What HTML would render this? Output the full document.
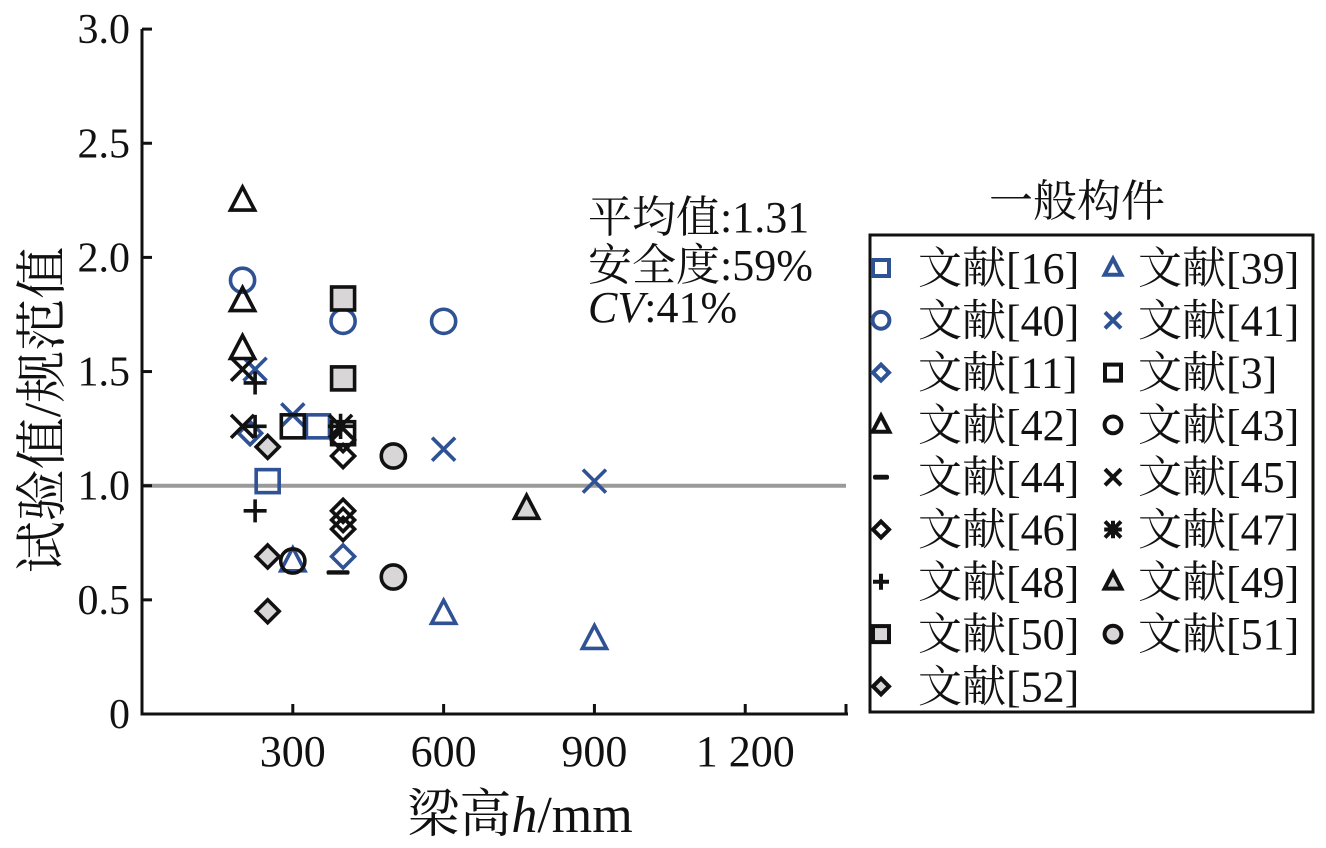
<!DOCTYPE html>
<html><head><meta charset="utf-8"><style>
html,body{margin:0;padding:0;background:#fff;}
svg{display:block;font-family:"Liberation Serif","Noto Serif CJK SC",serif;}
</style></head><body>
<svg id="chart" width="1326" height="848" viewBox="0 0 1326 848" xmlns="http://www.w3.org/2000/svg">
<g id="plot"></g>
<g id="legend"></g>
</svg>
<script>
const NS="http://www.w3.org/2000/svg";
const xTicks=[300,600,900,1200];
const xTickLabels=["300","600","900","1 200"];
const yTicks=[0,0.5,1.0,1.5,2.0,2.5,3.0];
const yTickLabels=["0","0.5","1.0","1.5","2.0","2.5","3.0"];
const seriesNames=["文献[16]","文献[39]","文献[40]","文献[41]","文献[11]","文献[3]","文献[42]","文献[43]","文献[44]","文献[45]","文献[46]","文献[47]","文献[48]","文献[49]","文献[50]","文献[51]","文献[52]"];
const seriesShapes=["square","triangle","circle","x","diamond","square","triangle","circle","dash","x","diamond","asterisk","plus","triangle","square","circle","diamond"];
const seriesColors=["blue","blue","blue","blue","blue","black","black","black","black","black","black","black","black","gray","gray","gray","gray"];
const s16x=[250,350],s16y=[1.02,1.26];
const s39x=[300,600,900],s39y=[0.67,0.44,0.33];
const s40x=[200,400,600],s40y=[1.90,1.72,1.72];
const s41x=[225,300,600,900],s41y=[1.51,1.31,1.16,1.02];
const s11x=[215,400],s11y=[1.23,0.69];
const s3x=[300,400],s3y=[1.26,1.23];
const s42x=[200,200,200],s42y=[2.25,1.81,1.60];
const s43x=[300],s43y=[0.67];
const s44x=[390],s44y=[0.62];
const s45x=[200,200],s45y=[1.51,1.26];
const s46x=[400,400,400,400,400],s46y=[1.20,1.13,0.89,0.85,0.81];
const s47x=[395],s47y=[1.26];
const s48x=[225,225,225],s48y=[1.45,1.26,0.89];
const s49x=[765],s49y=[0.90];
const s50x=[400,400],s50y=[1.82,1.47];
const s51x=[500,500],s51y=[1.13,0.60];
const s52x=[250,250,250],s52y=[1.17,0.69,0.45];
const allX=[s16x,s39x,s40x,s41x,s11x,s3x,s42x,s43x,s44x,s45x,s46x,s47x,s48x,s49x,s50x,s51x,s52x];
const allY=[s16y,s39y,s40y,s41y,s11y,s3y,s42y,s43y,s44y,s45y,s46y,s47y,s48y,s49y,s50y,s51y,s52y];
const legendOrder=[0,1,2,3,4,5,6,7,8,9,10,11,12,13,14,15,16];

const X0=142,PXMM=0.5027,Y0=714,PXU=228.3;
const xs=v=>X0+v*PXMM, ys=v=>Y0-v*PXU;
const BLUE="#2f5295",BLACK="#111",GRAY="#d8d6d6";
function el(t,a,p){const e=document.createElementNS(NS,t);for(const k in a)e.setAttribute(k,a[k]);p.appendChild(e);return e;}
const plot=document.getElementById('plot'),leg=document.getElementById('legend');

function marker(parent,shape,color,cx,cy,r,sw){
  const stroke=color==="blue"?BLUE:BLACK;
  const fill=color==="gray"?GRAY:"none";
  const g=el('g',{},parent);
  const st={stroke:stroke,'stroke-width':sw,fill:fill};
  if(shape==="square")el('rect',Object.assign({x:cx-r,y:cy-r,width:2*r,height:2*r},st),g);
  else if(shape==="circle")el('circle',Object.assign({cx:cx,cy:cy,r:r*1.05},st),g);
  else if(shape==="triangle")el('polygon',Object.assign({points:`${cx},${cy-r*1.15} ${cx-r*1.05},${cy+r*0.85} ${cx+r*1.05},${cy+r*0.85}`},st),g);
  else if(shape==="diamond")el('polygon',Object.assign({points:`${cx},${cy-r} ${cx+r},${cy} ${cx},${cy+r} ${cx-r},${cy}`},st),g);
  else if(shape==="x"){el('path',{d:`M${cx-r} ${cy-r}L${cx+r} ${cy+r}M${cx+r} ${cy-r}L${cx-r} ${cy+r}`,stroke:stroke,'stroke-width':sw},g);}
  else if(shape==="plus"){el('path',{d:`M${cx-r} ${cy}L${cx+r} ${cy}M${cx} ${cy-r}L${cx} ${cy+r}`,stroke:stroke,'stroke-width':sw},g);}
  else if(shape==="dash"){el('rect',{x:cx-r,y:cy-sw*0.6,width:2*r,height:sw*1.2,rx:sw*0.5,fill:stroke},g);}
  else if(shape==="asterisk"){el('path',{d:`M${cx-r} ${cy-r}L${cx+r} ${cy+r}M${cx+r} ${cy-r}L${cx-r} ${cy+r}M${cx-r*1.1} ${cy}L${cx+r*1.1} ${cy}M${cx} ${cy-r*1.1}L${cx} ${cy+r*1.1}`,stroke:stroke,'stroke-width':sw},g);}
  return g;
}

const rl=el('line',{x1:X0,x2:846,y1:ys(1),y2:ys(1),stroke:'#9a9a9a','stroke-width':4},plot);


const ax=el('path',{d:`M${X0} 29V${Y0}H848`,stroke:BLACK,'stroke-width':3,fill:'none'},plot);


yTicks.forEach((v,i)=>{
  el('line',{x1:X0,x2:X0+10,y1:ys(v),y2:ys(v),stroke:BLACK,'stroke-width':3},plot);
  const t=el('text',{x:X0-12,y:ys(v)+14,'text-anchor':'end','font-size':42,fill:BLACK},plot);
  t.textContent=yTickLabels[i];
  
  
});
xTicks.forEach((v,i)=>{
  el('line',{x1:xs(v),x2:xs(v),y1:Y0,y2:Y0-10,stroke:BLACK,'stroke-width':3},plot);
  const t=el('text',{x:xs(v),y:Y0+52,'text-anchor':'middle','font-size':44,fill:BLACK},plot);
  t.textContent=xTickLabels[i];
  
  
});
el('line',{x1:846,x2:846,y1:Y0,y2:Y0-10,stroke:BLACK,'stroke-width':3},plot);
const xt=el('text',{x:520,y:832,'text-anchor':'middle','font-size':52,fill:BLACK},plot);
xt.innerHTML='梁高<tspan font-style="italic">h</tspan>/mm';


const yt=el('text',{x:0,y:0,'text-anchor':'middle','font-size':52,fill:BLACK,transform:'translate(60,410) rotate(-90)'},plot);
yt.textContent='试验值/规范值';


const stats=[['平均值:1.31',232],['安全度:59%',280],['CV:41%',322]];
stats.forEach((s,i)=>{
  const t=el('text',{x:588,y:s[1],'font-size':44,fill:BLACK},plot);
  if(i===2)t.innerHTML='<tspan font-style="italic">CV</tspan>:41%';else t.textContent=s[0];
  
  
});
allX.forEach((xa,si)=>{
  xa.forEach((xv,j)=>{
    const g=marker(plot,seriesShapes[si],seriesColors[si],xs(xv),ys(allY[si][j]),11.5,3.6);
    
    
  });
});
const lt=el('text',{x:1077,y:216,'text-anchor':'middle','font-size':44,fill:BLACK},leg);
lt.textContent='一般构件';


const lb=el('rect',{x:870,y:235,width:443,height:477,fill:'none',stroke:BLACK,'stroke-width':3},leg);


legendOrder.forEach((si,k)=>{
  const col=k%2,row=Math.floor(k/2);
  const cy=268+row*52.3;
  const mx=col?1113:881, tx=col?1138:918;
  const g=el('g',{},leg);
  
  
  marker(g,seriesShapes[si],seriesColors[si],mx,cy,8,4);
  const t=el('text',{x:tx,y:cy+15,'font-size':44,fill:BLACK},g);
  t.textContent=seriesNames[si];
});
</script>
</body></html>
